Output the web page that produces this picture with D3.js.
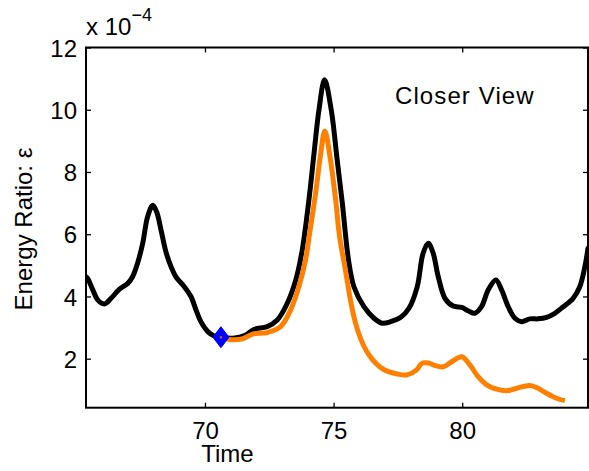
<!DOCTYPE html>
<html>
<head>
<meta charset="utf-8">
<script src="https://cdn.jsdelivr.net/npm/d3@7"></script>
<style>
  html, body { margin: 0; padding: 0; background: #fff; }
  svg { display: block; font-family: "Liberation Sans", Arial, Helvetica, sans-serif; }
</style>
</head>
<body>
<svg id="chart" width="589" height="471"></svg>
<script>
// ---- data (values in units of 1e-4) ----
const blackTime = [65.375, 65.44, 65.64, 65.83, 66.09, 66.35, 66.67, 67.00, 67.19, 67.38, 67.58, 67.77, 67.97, 68.12, 68.29, 68.48, 68.68, 68.87, 69.20, 69.46, 69.65, 69.84, 70.11, 70.36, 70.62, 71.08, 71.59, 71.90, 72.42, 72.81, 73.20, 73.53, 73.78, 74.04, 74.24, 74.43, 74.65, 74.91, 75.14, 75.34, 75.58, 75.79, 76.18, 76.57, 76.89, 77.22, 77.61, 77.93, 78.25, 78.48, 78.68, 78.87, 79.07, 79.33, 79.65, 79.98, 80.23, 80.49, 80.75, 81.01, 81.31, 81.53, 81.79, 82.05, 82.31, 82.63, 82.95, 83.28, 83.60, 83.93, 84.31, 84.57, 84.77, 84.89];
const blackRatio = [4.63, 4.58, 4.21, 3.89, 3.76, 3.94, 4.23, 4.42, 4.64, 5.07, 5.71, 6.56, 6.93, 6.72, 6.14, 5.44, 4.96, 4.63, 4.31, 3.99, 3.57, 3.19, 2.87, 2.73, 2.69, 2.66, 2.76, 2.94, 3.03, 3.24, 3.78, 4.53, 5.49, 7.10, 8.60, 9.99, 10.96, 9.99, 8.38, 6.99, 5.17, 4.31, 3.67, 3.30, 3.14, 3.19, 3.33, 3.62, 4.31, 5.39, 5.71, 5.39, 4.63, 3.94, 3.69, 3.65, 3.54, 3.46, 3.67, 4.21, 4.53, 4.21, 3.67, 3.30, 3.19, 3.28, 3.28, 3.33, 3.46, 3.67, 3.94, 4.31, 4.96, 5.55];

const orangeTime = [70.62, 70.94, 71.47, 71.85, 72.42, 72.94, 73.33, 73.65, 73.91, 74.04, 74.30, 74.50, 74.66, 74.86, 75.08, 75.23, 75.47, 75.64, 75.79, 75.96, 76.18, 76.41, 76.65, 76.93, 77.47, 77.86, 78.23, 78.43, 78.68, 78.94, 79.26, 79.59, 79.98, 80.30, 80.62, 80.95, 81.34, 81.73, 82.12, 82.63, 82.95, 83.28, 83.67, 83.99];
const orangeRatio = [2.69, 2.62, 2.64, 2.79, 2.84, 3.03, 3.57, 4.31, 5.17, 5.87, 7.31, 8.60, 9.32, 8.49, 7.10, 5.94, 4.80, 3.95, 3.35, 2.85, 2.40, 2.08, 1.85, 1.66, 1.51, 1.48, 1.64, 1.85, 1.86, 1.78, 1.74, 1.90, 2.06, 1.80, 1.42, 1.16, 1.02, 0.97, 1.05, 1.14, 1.05, 0.89, 0.73, 0.65];

const markerTime = [70.62];
const markerRatio = [2.69];

const xTicks = [70, 75, 80];
const yTicks = [2, 4, 6, 8, 10, 12];
const xDomain = [65.375, 84.89];
const yDomain = [0.425, 12];

const title = "Closer View";
const xLabel = "Time";
const yLabel = "Energy Ratio: \u03B5";

// ---- layout ----
const svg = d3.select("#chart");
const L = 86, R = 588, T = 47.5, B = 407.7;
const x = d3.scaleLinear().domain(xDomain).range([L, R]);
const y = d3.scaleLinear().domain(yDomain).range([B, T]);

svg.append("rect").attr("width", 589).attr("height", 471).attr("fill", "#fff");

const g = svg.append("g");
svg.append("clipPath").attr("id", "clip")
  .append("rect").attr("x", L).attr("y", T).attr("width", R - L).attr("height", B - T);

const line = d3.line().x(d => x(d[0])).y(d => y(d[1])).curve(d3.curveCatmullRom.alpha(0.5));

const blackData = blackTime.map((t, i) => [t, blackRatio[i]]);
const orangeData = orangeTime.map((t, i) => [t, orangeRatio[i]]);

const plot = g.append("g").attr("clip-path", "url(#clip)");
plot.append("path").datum(blackData).attr("d", line)
  .attr("fill", "none").attr("stroke", "#000").attr("stroke-width", 5)
  .attr("stroke-linejoin", "round").attr("stroke-linecap", "round");
plot.append("path").datum(orangeData).attr("d", line)
  .attr("fill", "none").attr("stroke", "#FF8000").attr("stroke-width", 5)
  .attr("stroke-linejoin", "round").attr("stroke-linecap", "butt");

// marker
markerTime.forEach((t, i) => {
  const cx = x(t), cy = y(markerRatio[i]);
  g.append("path")
    .attr("d", `M${cx},${cy - 10.5} L${cx + 8},${cy} L${cx},${cy + 10.5} L${cx - 8},${cy} Z`)
    .attr("fill", "#0000FF").attr("stroke", "#0000FF").attr("stroke-width", 1);
  g.append("circle").attr("cx", cx).attr("cy", cy).attr("r", 1.2).attr("fill", "#C86400");
});

// axes box
const axG = svg.append("g");
const tickLen = 5;
const fs = 24;

const xAxis = d3.axisBottom(x).tickValues(xTicks).tickSize(-tickLen).tickPadding(10).tickFormat(d3.format("d"));
const xa = axG.append("g").attr("transform", `translate(0,${B})`).call(xAxis);
const xAxisTop = d3.axisTop(x).tickValues(xTicks).tickSize(-tickLen).tickFormat("");
const xt = axG.append("g").attr("transform", `translate(0,${T})`).call(xAxisTop);
const yAxis = d3.axisLeft(y).tickValues(yTicks).tickSize(-tickLen).tickPadding(9).tickFormat(d3.format("d"));
const ya = axG.append("g").attr("transform", `translate(${L},0)`).call(yAxis);
const yAxisR = d3.axisRight(y).tickValues(yTicks).tickSize(-tickLen).tickFormat("");
const yr = axG.append("g").attr("transform", `translate(${R},0)`).call(yAxisR);

[xa, xt, ya, yr].forEach(a => {
  a.select(".domain").remove();
  a.selectAll(".tick line").attr("stroke", "#000").attr("stroke-width", 1.3);
  a.selectAll(".tick text").attr("fill", "#000").attr("font-size", fs)
    .attr("font-family", "'Liberation Sans', Arial, sans-serif");
});
xa.selectAll(".tick text").attr("dy", "0.71em").attr("y", 14);
ya.selectAll(".tick text").attr("dy", "0.36em");

axG.append("rect").attr("x", L).attr("y", T).attr("width", R - L).attr("height", B - T)
  .attr("fill", "none").attr("stroke", "#000").attr("stroke-width", 2);

// exponent label
const ex = svg.append("text").attr("x", 86).attr("y", 35).attr("font-size", fs).attr("fill", "#000");
ex.append("tspan").text("x 10");
ex.append("tspan").attr("dy", -14).attr("font-size", 18).text("\u22124");

// title inside
svg.append("text").attr("x", 395).attr("y", 104).attr("font-size", fs)
  .attr("letter-spacing", 1.1).attr("fill", "#000").text(title);

// x label
svg.append("text").attr("x", 227.5).attr("y", 462).attr("text-anchor", "middle")
  .attr("font-size", fs).attr("fill", "#000").text(xLabel);

// y label
svg.append("text").attr("transform", "translate(32,229) rotate(-90)")
  .attr("text-anchor", "middle").attr("font-size", fs).attr("fill", "#000").text(yLabel);
</script>
</body>
</html>
